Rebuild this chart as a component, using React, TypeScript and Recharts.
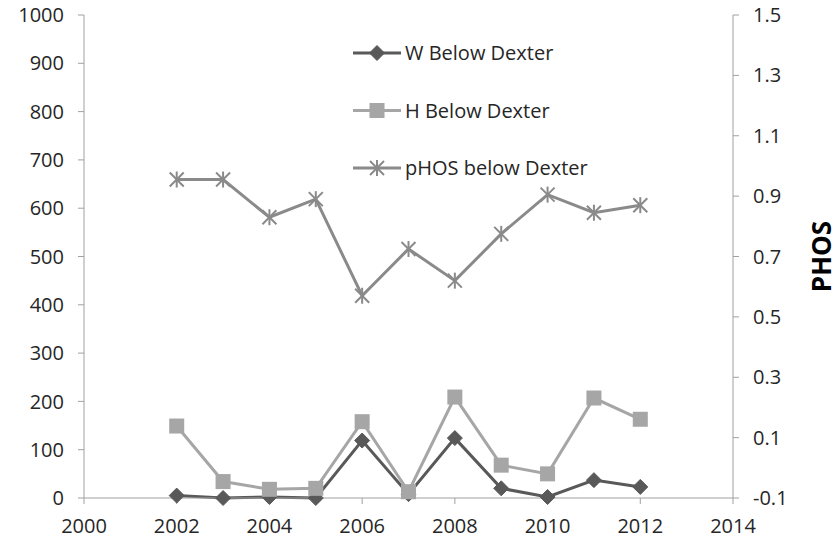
import React from "react";
import { LineChart, Line, XAxis, YAxis, Legend } from "recharts";

const years = [2002, 2003, 2004, 2005, 2006, 2007, 2008, 2009, 2010, 2011, 2012];
const wBelow = [5, 0, 2, 0, 119, 8, 124, 20, 2, 37, 23];
const hBelow = [149, 34, 18, 20, 158, 13, 209, 68, 50, 207, 163];
const phosBelow = [0.955, 0.955, 0.83, 0.89, 0.57, 0.725, 0.62, 0.775, 0.905, 0.845, 0.87];

const xTicks = [2000, 2002, 2004, 2006, 2008, 2010, 2012, 2014];
const leftTicks = [0, 100, 200, 300, 400, 500, 600, 700, 800, 900, 1000];
const rightTicks = [-0.1, 0.1, 0.3, 0.5, 0.7, 0.9, 1.1, 1.3, 1.5];

const seriesNames = ["W Below Dexter", "H Below Dexter", "pHOS below Dexter"];

const data = years.map((y, i) => ({
  year: y,
  w: wBelow[i],
  h: hBelow[i],
  p: phosBelow[i],
}));

const C_W = "#595959";
const C_H = "#A6A6A6";
const C_P = "#8A8A8A";
const AXIS = "#A0A0A0";
const TEXT = "#262626";
const FONT = "'Open Sans', sans-serif";

const Diamond = (props: any) => {
  const { cx, cy } = props;
  if (cx == null || cy == null) return null;
  const r = 7.5;
  return (
    <polygon
      points={`${cx},${cy - r} ${cx + r},${cy} ${cx},${cy + r} ${cx - r},${cy}`}
      fill={C_W}
      stroke={C_W}
      strokeWidth={1}
    />
  );
};

const Square = (props: any) => {
  const { cx, cy } = props;
  if (cx == null || cy == null) return null;
  const s = 15;
  return <rect x={cx - s / 2} y={cy - s / 2} width={s} height={s} fill={C_H} />;
};

const Star = (props: any) => {
  const { cx, cy } = props;
  if (cx == null || cy == null) return null;
  const r = 7;
  return (
    <g stroke={C_P} strokeWidth={2} fill="none">
      <line x1={cx - r} y1={cy - r} x2={cx + r} y2={cy + r} />
      <line x1={cx - r} y1={cy + r} x2={cx + r} y2={cy - r} />
      <line x1={cx} y1={cy - r - 1} x2={cx} y2={cy + r + 1} />
    </g>
  );
};

const renderLegend = () => {
  const rows = [
    { name: seriesNames[0], color: C_W, kind: "d" },
    { name: seriesNames[1], color: C_H, kind: "s" },
    { name: seriesNames[2], color: C_P, kind: "x" },
  ];
  return (
    <div style={{ width: 0, height: 0, overflow: "visible", position: "relative" }}>
      <svg
        width={260}
        height={140}
        style={{ display: "block", position: "absolute", left: 0, top: 0, overflow: "visible" }}
      >
        {rows.map((r, i) => {
          const y = 13 + i * 57.5;
          const cx = 27;
          return (
            <g key={r.name}>
              <line x1={3} y1={y} x2={51} y2={y} stroke={r.color} strokeWidth={3} />
              {r.kind === "d" && <Diamond cx={cx} cy={y} />}
              {r.kind === "s" && <Square cx={cx} cy={y} />}
              {r.kind === "x" && <Star cx={cx} cy={y} />}
              <text x={55} y={y + 7} fontSize={20} fill={TEXT} fontFamily={FONT}>
                {r.name}
              </text>
            </g>
          );
        })}
      </svg>
    </div>
  );
};

const PhosLabel = (props: any) => {
  const vb = props.viewBox || {};
  const x = (vb.x || 0) + (vb.width || 0) - 19;
  const y = (vb.y || 0) + (vb.height || 0) / 2;
  return (
    <text
      x={x}
      y={y}
      transform={`rotate(-90, ${x}, ${y})`}
      textAnchor="middle"
      dominantBaseline="central"
      fontSize={26}
      fontWeight="bold"
      fill="#000"
      fontFamily={FONT}
    >
      PHOS
    </text>
  );
};

export default function App() {
  const tickStyle = { fontSize: 20, fill: TEXT, fontFamily: FONT };
  return (
    <div style={{ position: "absolute", left: 0, top: 0, background: "#fff" }}>
      <LineChart
        width={840}
        height={543}
        data={data}
        margin={{ top: 15, right: 0, left: 0, bottom: 0 }}
      >
        <XAxis
          dataKey="year"
          type="number"
          domain={[2000, 2014]}
          ticks={xTicks}
          height={45}
          stroke={AXIS}
          tickLine={{ stroke: AXIS }}
          tickSize={6}
          tickMargin={15}
          tick={tickStyle}
          allowDataOverflow
        />
        <YAxis
          yAxisId="left"
          domain={[0, 1000]}
          ticks={leftTicks}
          width={84}
          stroke={AXIS}
          tickLine={{ stroke: AXIS }}
          tickSize={6}
          tickMargin={14}
          tick={tickStyle}
          interval={0}
        />
        <YAxis
          yAxisId="right"
          orientation="right"
          domain={[-0.1, 1.5]}
          ticks={rightTicks}
          width={107}
          stroke={AXIS}
          tickLine={{ stroke: AXIS }}
          tickSize={6}
          tickMargin={14}
          tick={tickStyle}
          interval={0}
          tickFormatter={(v: number) => String(Math.round(v * 10) / 10)}
          label={<PhosLabel />}
        />
        <Legend
          content={renderLegend}
          layout="vertical"
          verticalAlign="top"
          wrapperStyle={{ position: "absolute", left: 350, top: 40, width: 0, height: 0 }}
        />
        <Line
          yAxisId="left"
          dataKey="w"
          name={seriesNames[0]}
          stroke={C_W}
          strokeWidth={3}
          dot={<Diamond />}
          activeDot={false}
          isAnimationActive={false}
        />
        <Line
          yAxisId="left"
          dataKey="h"
          name={seriesNames[1]}
          stroke={C_H}
          strokeWidth={3}
          dot={<Square />}
          activeDot={false}
          isAnimationActive={false}
        />
        <Line
          yAxisId="right"
          dataKey="p"
          name={seriesNames[2]}
          stroke={C_P}
          strokeWidth={3}
          dot={<Star />}
          activeDot={false}
          isAnimationActive={false}
        />
      </LineChart>
    </div>
  );
}
